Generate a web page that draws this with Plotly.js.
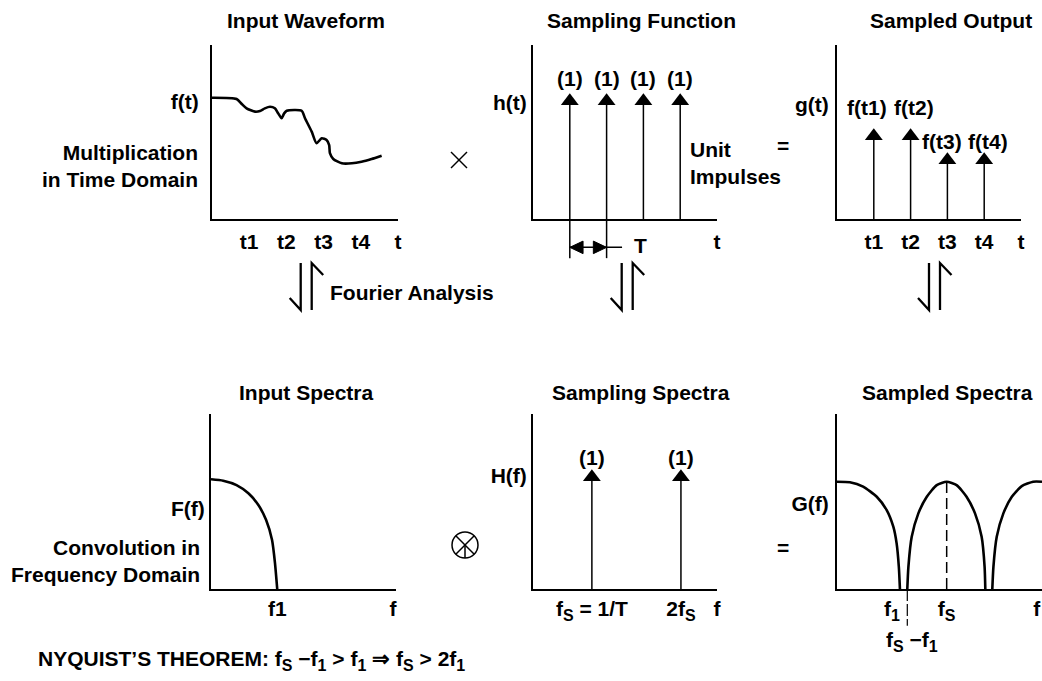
<!DOCTYPE html>
<html><head><meta charset="utf-8">
<script src="https://cdn.plot.ly/plotly-3.0.1.min.js"></script>
<style>html,body{margin:0;padding:0;background:#fff}#chart{width:1042px;height:681px}</style>
</head><body><div id="chart"></div>
<script>
// subscript helper (keeps text as a single run, shifted below the baseline)
const sub = s => `<span style="font-size:16px;baseline-shift:-5px">${s}</span>`;

// ================= DATA =================
// Panel 1: input waveform f(t)
const waveT = [0, 0.66, 0.80, 0.93, 1.16, 1.29, 1.42, 1.56, 1.69, 1.78, 1.87, 1.94, 2.01, 2.41, 2.50, 2.68, 2.81, 2.95, 3.08, 3.15, 3.17, 3.26, 3.49, 3.76, 4.02, 4.29, 4.56];
const waveF = [6.97, 6.90, 6.61, 6.36, 6.17, 6.21, 6.36, 6.45, 6.36, 6.07, 5.79, 6.07, 6.22, 6.22, 5.79, 5.02, 4.35, 4.64, 4.54, 4.25, 3.78, 3.45, 3.20, 3.20, 3.29, 3.45, 3.64];
const timeTicks = [1, 2, 3, 4, 5];
const timeTickLabels = ['t1', 't2', 't3', 't4', 't'];
const waveYLabelPos = [6.75];
const waveYLabel = ['f(t)'];

// Panel 2: sampling function h(t)
const sampleTimes = [1, 2, 3, 4];
const impulseHeights = [6.78, 6.78, 6.78, 6.78];
const impulseLabels = ['(1)', '(1)', '(1)', '(1)'];
const hAxisTicks = [5];
const hAxisTickLabels = ['t'];
const hYLabelPos = [6.67];
const hYLabel = ['h(t)'];
const periodEnd = 2.42;       // end of the T dimension leader
const periodLabelX = 2.91;

// Panel 3: sampled output g(t)
const sampledValues = [4.77, 4.77, 3.39, 3.39];
const sampledLabels = ['f(t1)', 'f(t2)', 'f(t3)', 'f(t4)'];
const gYLabelPos = [6.58];
const gYLabel = ['g(t)'];

// Panel 4: input spectrum F(f)
const specF = [0, 0.33, 0.69, 1.01, 1.28, 1.49, 1.65, 1.73, 1.79];
const specA = [6.27, 6.19, 5.94, 5.47, 4.80, 3.94, 2.80, 1.47, 0];
const specTicks = [1.79, 4.92];
const specTickLabels = ['f1', 'f'];
const FYLabelPos = [4.57];
const FYLabel = ['F(f)'];

// Panel 5: sampling spectrum H(f)
const lineFreqs = [1.60, 4.02];
const lineHeights = [6.40, 6.40];
const lineLabels = ['(1)', '(1)'];
const hfTicks = [1.60, 4.02, 5.0];
const hfTickLabels = ['f' + sub('S') + ' = 1/T', '2f' + sub('S'), 'f'];
const HYLabelPos = [6.46];
const HYLabel = ['H(f)'];

// Panel 6: sampled spectrum G(f)
const lobe0F = [0, 0.35, 0.71, 1.08, 1.35, 1.53, 1.62, 1.68, 1.71];
const lobe0A = [6.13, 6.10, 5.85, 5.27, 4.51, 3.56, 2.61, 1.27, 0];
const lobe1F = [1.91, 1.94, 2.03, 2.21, 2.44, 2.71, 2.98, 3.25, 3.52, 3.75, 3.93, 4.01, 4.03];
const lobe1A = [0, 1.27, 2.98, 4.32, 5.27, 5.94, 6.13, 5.94, 5.27, 4.32, 2.98, 1.27, 0];
const lobe2F = [4.22, 4.25, 4.34, 4.52, 4.75, 5.02, 5.33, 5.57];
const lobe2A = [0, 1.27, 2.98, 4.32, 5.27, 5.88, 6.13, 6.13];
const gfTicks = [1.49, 2.98, 5.43];
const gfTickLabels = ['f' + sub('1'), 'f' + sub('S'), 'f'];
const GYLabelPos = [4.89];
const GYLabel = ['G(f)'];
const fsMinusF1 = 1.91;
const fsIndex = 6;

// ================= LAYOUT HELPERS =================
const W = 1042, H = 681;
const px = x => x / W;
const py = y => 1 - y / H;
const FONT = 'Liberation Sans, Arial, Helvetica, sans-serif';
const FS = 21;
const font = (s) => ({family: FONT, size: s || FS, color: '#000', weight: 700});

function xAxis(dom, range, tv, tt, anchor, standoff) {
  return {domain: dom, range: range, anchor: anchor, showline: true, linewidth: 2, linecolor: '#000',
    showgrid: false, zeroline: false, ticks: '', tickvals: tv, ticktext: tt, tickfont: font(),
    ticklabelstandoff: standoff, fixedrange: true};
}
function yAxis(dom, tv, tt, anchor, standoff) {
  return {domain: dom, range: [0, 10], anchor: anchor, showline: true, linewidth: 2, linecolor: '#000',
    showgrid: false, zeroline: false, ticks: '', tickvals: tv, ticktext: tt, tickfont: font(),
    ticklabelstandoff: standoff, fixedrange: true};
}
const topY = [py(219), py(45)];
const botY = [py(589), py(414)];

function stems(xs, hs, xa, ya) {
  const x = [], y = [];
  xs.forEach((v, i) => { x.push(v, v, null); y.push(0, hs[i], null); });
  return {type: 'scatter', mode: 'lines', x: x, y: y, xaxis: xa, yaxis: ya,
    line: {color: '#000', width: 1.5}, hoverinfo: 'skip', showlegend: false};
}
function tips(xs, hs, xa, ya) {
  return {type: 'scatter', mode: 'markers', x: xs, y: hs, xaxis: xa, yaxis: ya,
    marker: {symbol: 'triangle-up', size: 15.5, color: '#000', opacity: 1, line: {width: 0}},
    hoverinfo: 'skip', showlegend: false, cliponaxis: false};
}
function curve(x, y, xa, ya) {
  return {type: 'scatter', mode: 'lines', x: x, y: y, xaxis: xa, yaxis: ya,
    line: {color: '#000', width: 2.6, shape: 'spline', smoothing: 0.6},
    hoverinfo: 'skip', showlegend: false};
}

const traces = [
  curve(waveT, waveF, 'x', 'y'),
  stems(sampleTimes, impulseHeights, 'x2', 'y2'),
  tips(sampleTimes, impulseHeights, 'x2', 'y2'),
  stems(sampleTimes, sampledValues, 'x3', 'y3'),
  tips(sampleTimes, sampledValues, 'x3', 'y3'),
  curve(specF, specA, 'x4', 'y4'),
  stems(lineFreqs, lineHeights, 'x5', 'y5'),
  tips(lineFreqs, lineHeights, 'x5', 'y5'),
  curve(lobe0F, lobe0A, 'x6', 'y6'),
  curve(lobe1F, lobe1A, 'x6', 'y6'),
  curve(lobe2F, lobe2A, 'x6', 'y6'),
  {type: 'scatter', mode: 'lines', x: [lobe1F[fsIndex], lobe1F[fsIndex]], y: [0, lobe1A[fsIndex]],
    xaxis: 'x6', yaxis: 'y6', line: {color: '#000', width: 1.5, dash: '11px,5px'}, hoverinfo: 'skip', showlegend: false}
];

// ================= ANNOTATIONS =================
const ann = [];
function paperText(text, x, y, xanchor, extra) {
  ann.push(Object.assign({text: text, x: px(x), y: py(y), xref: 'paper', yref: 'paper',
    xanchor: xanchor || 'center', yanchor: 'middle', showarrow: false, font: font()}, extra || {}));
}
paperText('Input Waveform', 306, 20);
paperText('Sampling Function', 641, 20);
paperText('Sampled Output', 951, 20);
paperText('Input Spectra', 306, 392);
paperText('Sampling Spectra', 641, 392);
paperText('Sampled Spectra', 947, 392);
paperText('Multiplication<br>in Time Domain', 200, 166, 'right', {align: 'right'});
paperText('Convolution in<br>Frequency Domain', 202, 561, 'right', {align: 'right'});
paperText('Unit<br>Impulses', 688, 163, 'left', {align: 'left'});
paperText('Fourier Analysis', 328, 292, 'left');
paperText('=', 783, 145);
paperText('=', 783, 547);
paperText('NYQUIST\u2019S THEOREM: f' + sub('S') + ' \u2212f' + sub('1') + ' &gt; f' + sub('1') +
  ' \u21D2 f' + sub('S') + ' &gt; 2f' + sub('1'), 36, 660, 'left');

// impulse weight labels
sampleTimes.forEach((t, i) => ann.push({text: impulseLabels[i], x: t, y: impulseHeights[i], xref: 'x2', yref: 'y2',
  yshift: 22.5, showarrow: false, font: font(), xanchor: 'center', yanchor: 'middle'}));
const sampledShift = [[-7, 28], [3, 28], [-5, 19], [4, 19]];
sampleTimes.forEach((t, i) => ann.push({text: sampledLabels[i], x: t, y: sampledValues[i], xref: 'x3', yref: 'y3',
  xshift: sampledShift[i][0], yshift: sampledShift[i][1], showarrow: false, font: font(), xanchor: 'center', yanchor: 'middle'}));
lineFreqs.forEach((f, i) => ann.push({text: lineLabels[i], x: f, y: lineHeights[i], xref: 'x5', yref: 'y5',
  yshift: 19, showarrow: false, font: font(), xanchor: 'center', yanchor: 'middle'}));
// T label
ann.push({text: 'T', x: periodLabelX, y: -0.15, xref: 'x2', yref: 'y2 domain', showarrow: false,
  font: font(), xanchor: 'center', yanchor: 'middle'});
// fs - f1 label
ann.push({text: 'f' + sub('S') + ' \u2212f' + sub('1'), x: fsMinusF1, xshift: 5, y: -0.30, xref: 'x6', yref: 'y6 domain',
  showarrow: false, font: font(), xanchor: 'center', yanchor: 'middle'});

// ================= SHAPES (diagram glyphs) =================
const shapes = [];
const lineStyle = (w) => ({color: '#000', width: w});
function pPath(pts, w, closed, fill) {
  let d = pts.map((p, i) => (i ? 'L' : 'M') + px(p[0]) + ',' + py(p[1])).join(' ');
  if (closed) d += ' Z';
  shapes.push({type: 'path', xref: 'paper', yref: 'paper', path: d, line: lineStyle(w),
    fillcolor: fill || 'rgba(0,0,0,0)'});
}
function harpoon(x0) {
  pPath([[x0, 263], [x0, 310], [x0 - 11, 298]], 2.3);
  pPath([[x0 + 11, 310], [x0 + 11, 263], [x0 + 22.5, 275]], 2.3);
}
harpoon(300.7); harpoon(621.7); harpoon(929);
// multiplication sign
pPath([[451, 152], [467, 168]], 1.5);
pPath([[451, 168], [467, 152]], 1.5);
// convolution sign
shapes.push({type: 'circle', xref: 'paper', yref: 'paper', x0: px(452), x1: px(478), y0: py(558), y1: py(532),
  line: lineStyle(1.5)});
pPath([[455.8, 535.8], [474.2, 554.2]], 1.5);
pPath([[474.2, 535.8], [455.8, 554.2]], 1.5);
pPath([[465, 545], [465, 558]], 1.5);

// T dimension on sampling-function panel (data x, domain y)
const t0 = sampleTimes[0], t1s = sampleTimes[1];
const dimY = -0.163, dh = 0.036, aw = 0.36;
shapes.push({type: 'line', xref: 'x2', yref: 'y2 domain', x0: t0, x1: t0, y0: 0, y1: -0.225, line: lineStyle(1.5)});
shapes.push({type: 'line', xref: 'x2', yref: 'y2 domain', x0: t1s, x1: t1s, y0: 0, y1: -0.225, line: lineStyle(1.5)});
shapes.push({type: 'line', xref: 'x2', yref: 'y2 domain', x0: t0, x1: periodEnd, y0: dimY, y1: dimY, line: lineStyle(1.5)});
shapes.push({type: 'path', xref: 'x2', yref: 'y2 domain', fillcolor: '#000', line: lineStyle(1),
  path: `M${t0},${dimY} L${t0 + aw},${dimY + dh} L${t0 + aw},${dimY - dh} Z`});
shapes.push({type: 'path', xref: 'x2', yref: 'y2 domain', fillcolor: '#000', line: lineStyle(1),
  path: `M${t1s},${dimY} L${t1s - aw},${dimY + dh} L${t1s - aw},${dimY - dh} Z`});
// fs - f1 marker below axis
shapes.push({type: 'line', xref: 'x6', yref: 'y6 domain', x0: fsMinusF1, x1: fsMinusF1, y0: 0, y1: -0.21,
  line: {color: '#000', width: 1.2, dash: '12px,3px'}});

const layout = {
  width: W, height: H, autosize: false, margin: {l: 0, r: 0, t: 0, b: 0},
  paper_bgcolor: '#fff', plot_bgcolor: 'rgba(0,0,0,0)', showlegend: false,
  font: font(),
  xaxis: xAxis([px(212), px(398)], [0, 5], timeTicks, timeTickLabels, 'y', 3),
  yaxis: yAxis(topY, waveYLabelPos, waveYLabel, 'x', 7),
  xaxis2: xAxis([px(533), px(717)], [0, 5], hAxisTicks, hAxisTickLabels, 'y2', 3),
  yaxis2: yAxis(topY, hYLabelPos, hYLabel, 'x2', 0),
  xaxis3: xAxis([px(837), px(1021)], [0, 5], timeTicks, timeTickLabels, 'y3', 3),
  yaxis3: yAxis(topY, gYLabelPos, gYLabel, 'x3', 2),
  xaxis4: xAxis([px(211), px(396)], [0, 5], specTicks, specTickLabels, 'y4', 0),
  yaxis4: yAxis(botY, FYLabelPos, FYLabel, 'x4', 0),
  xaxis5: xAxis([px(533), px(717)], [0, 5], hfTicks, hfTickLabels, 'y5', 0),
  yaxis5: yAxis(botY, HYLabelPos, HYLabel, 'x5', 0),
  xaxis6: xAxis([px(837), 1], [0, 5.57], gfTicks, gfTickLabels, 'y6', 0),
  yaxis6: yAxis(botY, GYLabelPos, GYLabel, 'x6', 2),
  annotations: ann,
  shapes: shapes
};

Plotly.newPlot('chart', traces, layout, {staticPlot: true, displayModeBar: false});
</script>
</body></html>
